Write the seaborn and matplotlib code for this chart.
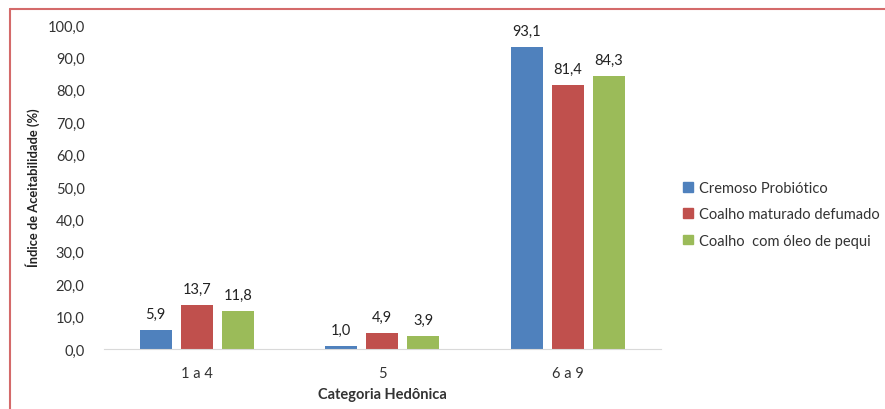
import matplotlib
matplotlib.use("Agg")
import matplotlib.pyplot as plt
import seaborn as sns
import pandas as pd
from matplotlib.patches import Rectangle
from matplotlib.lines import Line2D

categorias = ["1 a 4", "5", "6 a 9"]
produtos = ["Cremoso Probiótico", "Coalho maturado defumado", "Coalho  com óleo de pequi"]
cremoso = [5.9, 1.0, 93.1]
maturado = [13.7, 4.9, 81.4]
pequi = [11.8, 3.9, 84.3]
cores = ["#4F81BD", "#C0504D", "#9BBB59"]

df = pd.DataFrame({
    "Categoria": categorias * 3,
    "Produto": [produtos[0]] * 3 + [produtos[1]] * 3 + [produtos[2]] * 3,
    "Valor": cremoso + maturado + pequi,
})

sns.set_style("white")
plt.rcParams["font.family"] = ["Lato", "DejaVu Sans"]

fig = plt.figure(figsize=(8.85, 4.10), dpi=100)
ax = fig.add_axes([0.1175, 0.1463, 0.629, 0.7903])

sns.barplot(data=df, x="Categoria", y="Valor", hue="Produto", hue_order=produtos,
            order=categorias, palette=cores, saturation=1, width=0.665, gap=0.22, ax=ax,
            edgecolor="none", legend=False)

for cont in ax.containers:
    ax.bar_label(cont, labels=[f"{v:.1f}".replace(".", ",") for v in cont.datavalues],
                 padding=6.5, fontsize=10.5, color="#222222")

ax.set_ylim(0, 100)
ax.set_yticks(range(0, 101, 10))
ax.set_yticklabels([f"{v},0" for v in range(0, 101, 10)], fontsize=10.5, color="#333333")
ax.tick_params(axis="x", labelsize=10.5, colors="#333333", length=0, pad=12)
ax.tick_params(axis="y", length=0, pad=14)
for s in ["top", "right", "left"]:
    ax.spines[s].set_visible(False)
ax.spines["bottom"].set_color("#D9D9D9")
ax.set_xlim(-0.5, 2.5)

ax.set_xlabel("Categoria Hedônica", fontsize=10.5, fontweight="bold", color="#333333", labelpad=5)
ax.set_ylabel("Índice de Aceitabilidade (%)", fontsize=9.3, fontweight="bold", color="#222222", labelpad=5)

handles = [Rectangle((0, 0), 1, 1, color=c) for c in cores]
fig.legend(handles, produtos, loc="center left", bbox_to_anchor=(0.772, 0.475), frameon=False,
           borderpad=0, borderaxespad=0,
           fontsize=10.5, handlelength=0.65, handleheight=0.65, handletextpad=0.4, labelspacing=0.85,
           labelcolor="#333333")

# red frame (left and top) like the source image
fig.add_artist(Line2D([0.0113, 0.0113], [0.0, 0.975], transform=fig.transFigure, color="#D46A6A", lw=1.5))
fig.add_artist(Line2D([0.0113, 1.0], [0.975, 0.975], transform=fig.transFigure, color="#D46A6A", lw=1.5))

fig.savefig("out.png", dpi=100)
